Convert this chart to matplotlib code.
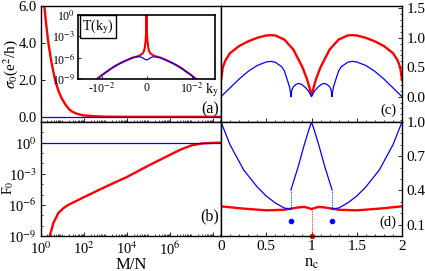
import numpy as np
import matplotlib
matplotlib.use('Agg')
import matplotlib.pyplot as plt
from matplotlib.ticker import LogLocator, MultipleLocator, FixedLocator, NullFormatter

plt.rcParams['font.family'] = ['Liberation Serif', 'DejaVu Serif']
plt.rcParams['mathtext.fontset'] = 'stix'
plt.rcParams['xtick.direction'] = 'in'
plt.rcParams['ytick.direction'] = 'in'

# ---------------- panel (a): sigma_0 vs M/N ----------------
a_x = [1.2, 1.3, 1.43, 1.7, 2.2, 3.0, 4.5, 6.5, 9.2, 14, 20, 27, 45, 90, 300, 1e3, 1e4, 1e6, 2.4e8]
a_red = [7.6, 6.8, 6.0, 5.1, 4.0, 3.0, 2.0, 1.4, 1.0, 0.65, 0.43, 0.3, 0.18, 0.09, 0.04, 0.02, 0.01, 0.01, 0.01]
a_blue_x = [1.0, 2.4e8]
a_blue = [0.01, 0.01]

# ---------------- inset: T(k_y) ----------------
k_blue = [-0.015, -0.013, -0.012, -0.011, -0.010, -0.009, -0.008, -0.007, -0.006, -0.005, -0.004,
          -0.003, -0.002, -0.0015, -0.001, -0.0005, 0.0,
          0.0005, 0.001, 0.0015, 0.002, 0.003, 0.004, 0.005, 0.006, 0.007, 0.008, 0.009,
          0.010, 0.011, 0.012, 0.013, 0.015]
logT_blue = [-11.2, -10.1, -9.5, -8.95, -8.45, -8.0, -7.55, -7.15, -6.8, -6.5, -6.22,
             -5.98, -5.86, -5.84, -5.95, -6.15, -6.3,
             -6.15, -5.95, -5.84, -5.86, -5.98, -6.22, -6.5, -6.8, -7.15, -7.55, -8.0,
             -8.45, -8.95, -9.5, -10.1, -11.2]
k_red = [-0.015, -0.013, -0.012, -0.011, -0.010, -0.009, -0.008, -0.007, -0.006, -0.005, -0.004,
         -0.003, -0.002, -0.0015, -0.0009, -0.0006, -0.0004, -0.0002, -0.0001, 0.0,
         0.0001, 0.0002, 0.0004, 0.0006, 0.0009, 0.0015, 0.002, 0.003,
         0.004, 0.005, 0.006, 0.007, 0.008, 0.009, 0.010, 0.011, 0.012, 0.013, 0.015]
logT_red = [-11.2, -10.1, -9.5, -8.95, -8.45, -8.0, -7.55, -7.15, -6.8, -6.5, -6.22,
            -5.95, -5.78, -5.65, -5.4, -5.1, -4.6, -3.6, -2.5, 0.0,
            -2.5, -3.6, -4.6, -5.1, -5.4, -5.65, -5.78, -5.95,
            -6.22, -6.5, -6.8, -7.15, -7.55, -8.0, -8.45, -8.95, -9.5, -10.1, -11.2]

# ---------------- panel (b): F_0 vs M/N ----------------
b_logx = [0.3, 0.42, 0.57, 0.8, 1.04, 1.27, 2.0, 3.0, 4.0, 5.0, 6.0, 6.5, 7.0, 7.5, 8.0, 8.4]
b_logF = [-10.0, -8.9, -7.77, -6.8, -6.32, -6.0, -5.25, -4.25, -3.3, -2.2, -1.16, -0.65, -0.25, -0.07, -0.01, 0.0]
b_blue_x = [1.0, 2.4e8]
b_blue = [1.0, 1.0]

# ---------------- panel (c) ----------------
c_n_red = [0.0, 0.02, 0.05, 0.1, 0.2, 0.3, 0.4, 0.5, 0.55, 0.6, 0.7, 0.8, 0.9, 0.95, 1.0,
           1.05, 1.1, 1.2, 1.3, 1.4, 1.45, 1.5, 1.6, 1.7, 1.8, 1.9, 1.95, 1.98, 2.0]
c_red = [0.28, 0.5, 0.62, 0.74, 0.86, 0.94, 1.0, 1.04, 1.045, 1.04, 0.97, 0.8, 0.5, 0.3, 0.03,
         0.3, 0.5, 0.8, 0.97, 1.04, 1.045, 1.04, 1.0, 0.94, 0.86, 0.74, 0.62, 0.5, 0.28]
c_n_blue = [0.0, 0.1, 0.2, 0.3, 0.4, 0.5, 0.55, 0.6, 0.67, 0.7, 0.74, 0.76, 0.774,
            0.777, 0.785, 0.8, 0.83, 0.86, 0.89, 0.93, 0.97, 1.0,
            1.03, 1.07, 1.11, 1.14, 1.17, 1.2, 1.215, 1.223, 1.226,
            1.24, 1.26, 1.3, 1.33, 1.4, 1.45, 1.5, 1.6, 1.7, 1.8, 1.9, 2.0]
c_blue = [0.0, 0.15, 0.3, 0.43, 0.53, 0.59, 0.6, 0.585, 0.51, 0.44, 0.25, 0.15, 0.0,
          0.06, 0.12, 0.17, 0.21, 0.225, 0.21, 0.16, 0.09, 0.0,
          0.09, 0.16, 0.21, 0.225, 0.21, 0.17, 0.12, 0.06, 0.0,
          0.15, 0.25, 0.44, 0.51, 0.585, 0.6, 0.59, 0.53, 0.43, 0.3, 0.15, 0.0]

# ---------------- panel (d) ----------------
d_n_red = [0.0, 0.25, 0.5, 0.7, 0.85, 0.92, 0.97, 1.0, 1.03, 1.08, 1.15, 1.3, 1.5, 1.75, 2.0]
d_red = [0.26, 0.24, 0.225, 0.23, 0.25, 0.255, 0.245, 0.235, 0.245, 0.255, 0.25, 0.23, 0.225, 0.24, 0.26]
d_n_blue_l = [0.0, 0.1, 0.25, 0.4, 0.5, 0.6, 0.7, 0.773]
d_blue_l = [1.0, 0.8, 0.58, 0.43, 0.35, 0.29, 0.245, 0.237]
d_n_blue_m = [0.773, 0.85, 0.92, 0.97, 1.0, 1.03, 1.08, 1.15, 1.227]
d_blue_m = [0.405, 0.6, 0.8, 0.93, 1.0, 0.93, 0.8, 0.6, 0.405]
d_n_blue_r = [1.227, 1.3, 1.4, 1.5, 1.6, 1.75, 1.9, 2.0]
d_blue_r = [0.237, 0.245, 0.29, 0.35, 0.43, 0.58, 0.8, 1.0]
d_jump_n = [0.773, 1.227]
d_jump_lo = [0.237, 0.237]
d_jump_hi = [0.405, 0.405]
d_dot_blue = [0.128, 0.128]
d_red_dot_n = 1.0
d_red_dot = 0.0

RED = '#ff0000'
BLUE = '#0000ff'

fig = plt.figure(figsize=(4.25, 2.71), dpi=100)
ax_a = fig.add_axes([0.0965, 0.5498, 0.4235, 0.428])
ax_b = fig.add_axes([0.0965, 0.1292, 0.4235, 0.4207])
ax_c = fig.add_axes([0.52, 0.5498, 0.4259, 0.428])
ax_d = fig.add_axes([0.52, 0.1292, 0.4259, 0.4207])

for ax in (ax_a, ax_b):
    ax.tick_params(labelsize=10.5, length=3, width=0.6, pad=3)
for ax in (ax_c, ax_d):
    ax.tick_params(labelsize=11, length=3, width=0.6, pad=3)
ax_b.tick_params(axis='x', labelsize=10.5, pad=3.5)
ax_d.tick_params(axis='x', pad=3)
for ax in (ax_a, ax_b, ax_c, ax_d):
    ax.tick_params(which='minor', length=1.6, width=0.5)
    for s in ax.spines.values():
        s.set_linewidth(1.0)

# (a)
ax_a.plot(a_x, a_red, color=RED, lw=1.7)
ax_a.plot(a_blue_x, a_blue, color=BLUE, lw=0.9)
ax_a.set_xscale('log')
ax_a.set_xlim(1, 2.3e8)
ax_a.set_ylim(-0.27, 6.0)
ax_a.set_yticks([0, 2, 4, 6])
ax_a.set_yticklabels(['0.0', '2.0', '4.0', '6.0'])
ax_a.xaxis.set_major_locator(FixedLocator([1e0, 1e2, 1e4, 1e6, 1e8]))
ax_a.xaxis.set_minor_locator(LogLocator(base=10, subs=np.arange(2, 10), numticks=100))
ax_a.xaxis.set_major_formatter(NullFormatter())
ax_a.xaxis.set_minor_formatter(NullFormatter())
ax_a.set_ylabel(r'$\sigma_0$(e$^2$/h)', fontsize=11)
ax_a.yaxis.set_label_coords(-0.115, 0.5)
ax_a.text(0.99, 0.04, '(a)', transform=ax_a.transAxes, ha='right', va='bottom', fontsize=11.5)

# inset
ins = fig.add_axes([0.184, 0.7074, 0.3216, 0.2373])
ins.plot(k_red, 10.0 ** np.array(logT_red), color=RED, lw=1.5)
ins.plot(k_blue, 10.0 ** np.array(logT_blue), color=BLUE, lw=0.9)
ins.set_yscale('log')
ins.set_xlim(-0.0152, 0.0152)
ins.set_ylim(1e-9, 1e0)
ins.set_yticks([1e0, 1e-3, 1e-6, 1e-9])
ins.yaxis.set_minor_locator(FixedLocator([]))
ins.set_yticklabels([r'10$^0$', r'10$^{-3}$', r'10$^{-6}$', r'10$^{-9}$'])
ins.set_xticks([-0.01, 0, 0.01])
ins.set_xticklabels([r'-10$^{-2}$', '0', r'10$^{-2}$'])
ins.tick_params(labelsize=8.5, length=2.5, width=0.6, pad=2)
for s in ins.spines.values():
    s.set_linewidth(1.2)
ins.text(0.03, 0.96, r'T(k$_\mathrm{y}$)', transform=ins.transAxes, ha='left', va='top', fontsize=10,
         bbox=dict(boxstyle='square,pad=0.15', fc='white', ec='black', lw=1.0))
ins.text(0.975, -0.17, r'k$_\mathrm{y}$', transform=ins.transAxes, ha='center', va='center', fontsize=10)

# (b)
ax_b.plot(10.0 ** np.array(b_logx), 10.0 ** np.array(b_logF), color=RED, lw=1.7)
ax_b.plot(b_blue_x, b_blue, color=BLUE, lw=0.9)
ax_b.set_xscale('log')
ax_b.set_yscale('log')
ax_b.set_xlim(1, 2.3e8)
ax_b.set_ylim(1e-9, 1e2)
ax_b.xaxis.set_major_locator(FixedLocator([1e0, 1e2, 1e4, 1e6, 1e8]))
ax_b.xaxis.set_minor_locator(LogLocator(base=10, subs=np.arange(2, 10), numticks=100))
ax_b.xaxis.set_minor_formatter(NullFormatter())
ax_b.set_xticklabels([r'10$^0$', r'10$^2$', r'10$^4$', r'10$^6$', ''])
ax_b.yaxis.set_major_locator(FixedLocator([1e0, 1e-3, 1e-6, 1e-9]))
ax_b.yaxis.set_minor_locator(FixedLocator([10.0 ** e for e in range(-9, 3)]))
ax_b.yaxis.set_minor_formatter(NullFormatter())
ax_b.set_yticklabels([r'10$^0$', r'10$^{-3}$', r'10$^{-6}$', r'10$^{-9}$'])
ax_b.set_xlabel('M/N', fontsize=12)
ax_b.xaxis.set_label_coords(0.5, -0.18)
ax_b.set_ylabel(r'F$_0$', fontsize=10)
ax_b.yaxis.set_label_coords(-0.138, 0.42)
ax_b.text(0.99, 0.1, '(b)', transform=ax_b.transAxes, ha='right', va='bottom', fontsize=11.5)

# (c)
ax_c.plot(c_n_red, c_red, color=RED, lw=1.7)
ax_c.plot(c_n_blue, c_blue, color=BLUE, lw=0.9)
ax_c.set_xlim(0, 2)
ax_c.set_ylim(-0.43, 1.54)
ax_c.yaxis.tick_right()
ax_c.set_yticks([0.0, 0.5, 1.0, 1.5])
ax_c.set_yticklabels(['0.0', '0.5', '1.0', '1.5'])
ax_c.yaxis.set_minor_locator(MultipleLocator(0.1))
ax_c.set_xticks([0, 0.5, 1, 1.5, 2])
ax_c.xaxis.set_minor_locator(MultipleLocator(0.1))
ax_c.tick_params(labelbottom=False)
ax_c.text(0.97, 0.04, '(c)', transform=ax_c.transAxes, ha='right', va='bottom', fontsize=10.5)

# (d)
ax_d.plot(d_n_red, d_red, color=RED, lw=1.7)
ax_d.plot(d_n_blue_l, d_blue_l, color=BLUE, lw=0.9)
ax_d.plot(d_n_blue_m, d_blue_m, color=BLUE, lw=0.9)
ax_d.plot(d_n_blue_r, d_blue_r, color=BLUE, lw=0.9)
ax_d.vlines(d_jump_n, d_jump_lo, d_jump_hi, colors=BLUE, lw=0.6, linestyles=(0, (1, 1)))
ax_d.plot(d_jump_n, d_dot_blue, 'o', color=BLUE, ms=3)
ax_d.vlines([d_red_dot_n], [d_red_dot], [0.235], colors=RED, lw=0.6, linestyles=(0, (1, 1)))
ax_d.plot([d_red_dot_n], [d_red_dot], 'o', color=RED, ms=3, clip_on=False)
ax_d.set_xlim(0, 2)
ax_d.set_ylim(0.0, 1.0)
ax_d.yaxis.tick_right()
ax_d.set_yticks([0.1, 0.4, 0.7, 1.0])
ax_d.yaxis.set_minor_locator(MultipleLocator(0.1))
ax_d.set_xticks([0, 0.5, 1, 1.5, 2])
ax_d.set_xticklabels(['0', '0.5', '1', '1.5', '2'])
ax_d.xaxis.set_minor_locator(MultipleLocator(0.1))
ax_d.set_xlabel(r'n$_\mathrm{c}$', fontsize=12)
ax_d.xaxis.set_label_coords(0.5, -0.17)
ax_d.text(0.97, 0.06, '(d)', transform=ax_d.transAxes, ha='right', va='bottom', fontsize=10.5)

fig.savefig('out.png', dpi=100)
